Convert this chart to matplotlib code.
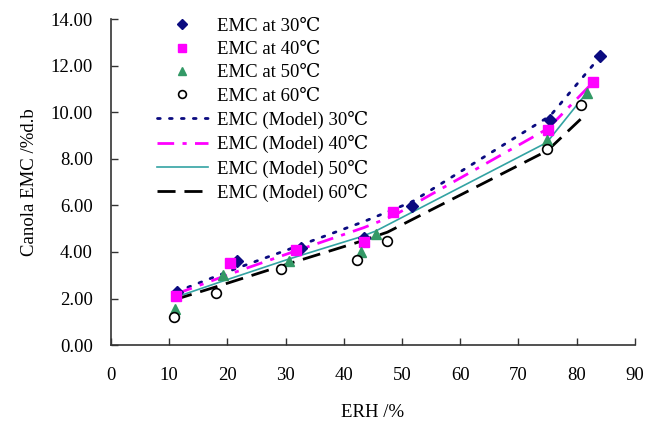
import numpy as np
import matplotlib.pyplot as plt

plt.rcParams['font.family'] = ['Liberation Serif', 'DejaVu Serif']

# measured EMC (ERH %, EMC %d.b)
erh_30 = [11.3, 21.6, 32.6, 43.4, 51.7, 75.5, 84.1]
emc_30 = [2.27, 3.61, 4.15, 4.62, 5.98, 9.66, 12.41]
erh_40 = [11.2, 20.4, 31.8, 43.5, 48.5, 75.1, 82.9]
emc_40 = [2.10, 3.51, 4.08, 4.41, 5.72, 9.23, 11.31]
erh_50 = [11.0, 19.2, 30.6, 42.9, 45.5, 74.9, 81.8]
emc_50 = [1.57, 3.00, 3.61, 3.98, 4.79, 8.80, 10.81]
erh_60 = [10.9, 18.0, 29.3, 42.2, 47.5, 75.0, 80.7]
emc_60 = [1.22, 2.22, 3.29, 3.65, 4.47, 8.40, 10.30]

# model curves at the same ERH
model_30 = [2.30, 3.30, 4.30, 5.30, 6.15, 9.85, 12.40]
model_40 = [2.20, 3.05, 4.05, 5.05, 5.55, 9.30, 11.30]
model_50 = [2.05, 2.75, 3.70, 4.65, 4.90, 8.70, 10.85]
model_60 = [1.95, 2.50, 3.40, 4.40, 4.85, 8.35, 9.70]

fig = plt.figure(figsize=(6.49, 4.23), dpi=100)
ax = fig.add_axes([0.171, 0.184, 0.807, 0.771])

ax.plot(erh_30, emc_30, 'D', color='#0b0b80', ms=6, ls='none', zorder=4, label='EMC at 30℃')
ax.plot(erh_40, emc_40, 's', color='#ff00ff', ms=7.5, ls='none', zorder=4, label='EMC at 40℃')
ax.plot(erh_50, emc_50, '^', color='#339966', ms=7.5, ls='none', zorder=4, label='EMC at 50℃')
ax.plot(erh_60, emc_60, 'o', mfc='white', mec='black', mew=1.2, ms=7, ls='none', zorder=4, label='EMC at 60℃')

ax.plot(erh_30, model_30, color='#0b0b80', lw=2, ls=(0, (1, 3.3)), dash_capstyle='round', label='EMC (Model) 30℃')
ax.plot(erh_40, model_40, color='#ff00ff', lw=2, ls=(0, (6, 3, 1.5, 3)), label='EMC (Model) 40℃')
ax.plot(erh_50, model_50, color='#33a3a3', lw=1.2, ls='-', label='EMC (Model) 50℃')
ax.plot(erh_60, model_60, color='black', lw=2, ls=(0, (6.5, 3.2)), label='EMC (Model) 60℃')

ax.set_xlim(0, 90)
ax.set_ylim(0, 14)
ax.set_xticks(np.arange(0, 91, 10))
ax.set_yticks(np.arange(0, 14.1, 2))
ax.set_yticklabels(['%.2f' % v for v in np.arange(0, 14.1, 2)])
ax.spines['top'].set_visible(False)
ax.spines['right'].set_visible(False)
for s in ['left', 'bottom']:
    ax.spines[s].set_color('#333333')
    ax.spines[s].set_linewidth(1.2)
ax.tick_params(axis='both', direction='in', length=5, width=1, colors='#333333', labelsize=13.5, labelcolor='black')
ax.tick_params(axis='x', pad=16)
ax.tick_params(axis='y', pad=13)

ax.set_xlabel('ERH /%', fontsize=13.5, labelpad=14)
ax.set_ylabel('Canola EMC /%d.b', fontsize=13.5, labelpad=9)

ax.legend(loc='upper left', bbox_to_anchor=(0.088, 1.004), frameon=False, fontsize=13.5,
          borderpad=0, borderaxespad=0, handlelength=2.7, handletextpad=0.5, labelspacing=0.33,
          markerscale=0.8)

fig.savefig('out.png', dpi=100)
